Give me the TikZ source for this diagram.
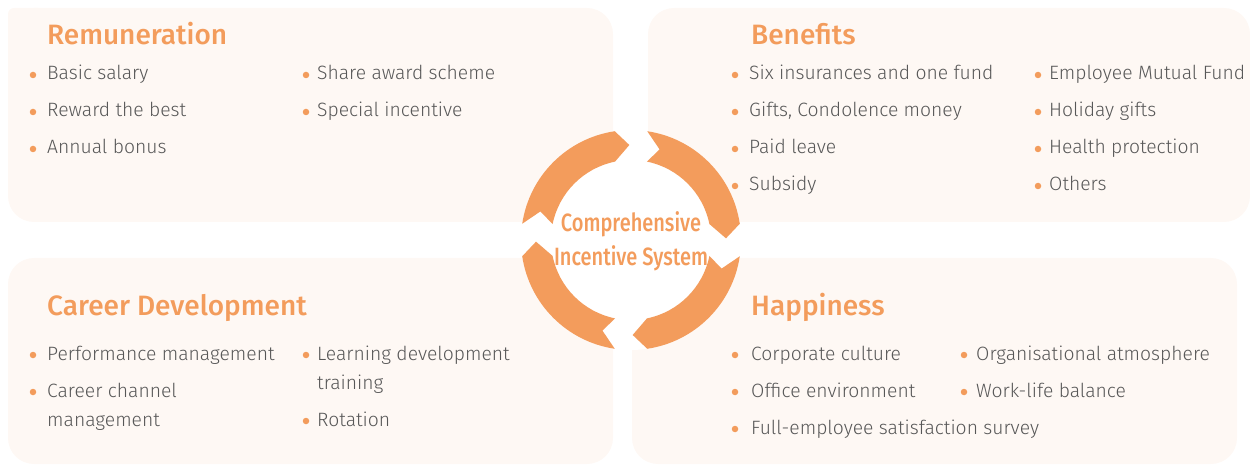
\documentclass[tikz,border=0pt]{standalone}
\usepackage{fontspec}
\setmainfont{Fira Sans Light}
\newfontfamily\titlefont{Fira Sans Medium}
\newfontfamily\hubfont{Fira Sans Medium}
\definecolor{accent}{HTML}{F39C5C}
\definecolor{panel}{HTML}{FEF8F4}
\definecolor{bodytext}{HTML}{575757}
\tikzset{
  panelbox/.style={fill=panel, rounded corners=26pt},
  heading/.style={anchor=base west, inner sep=0pt, text=accent, font=\titlefont\fontsize{28}{32}\selectfont},
  itemtext/.style={anchor=base west, inner sep=0pt, text=bodytext, font=\fontsize{19.3}{23}\selectfont},
  bullet/.style={circle, fill=accent, inner sep=0pt, minimum size=6.5pt},
  hubtext/.style={anchor=base, inner sep=0pt, text=accent, font=\hubfont\fontsize{25}{28}\selectfont},
  ringarrow/.style={fill=accent}
}
\begin{document}
\begin{tikzpicture}[x=1pt,y=1pt]
\useasboundingbox (0,0) rectangle (1250,464);

% panels
\fill[panelbox] (8,242) rectangle (613,456);
\fill[panel, rounded corners=6pt] (8,456) rectangle (44,420);
\fill[panelbox] (648,242) rectangle (1250,456);
\fill[panelbox] (8,0) rectangle (613,206);
\fill[panelbox] (632,0) rectangle (1237,206);

% ring
\fill[white] (631,224) circle (110);
\foreach \c in {90,0,-90,-180} {
  \fill[ringarrow, shift={(631,224)}]
    ({\c-8.5}:110) arc[start angle={\c-8.5}, end angle={\c-81.5}, radius=110]
    -- ({\c-89}:95)
    -- ({\c-78.5}:80) arc[start angle={\c-78.5}, end angle={\c-11.5}, radius=80]
    -- ({\c-17.5}:95) -- cycle;
}
\node[hubtext] (hubA) at (631,232) {\scalebox{0.8}[1]{Comprehensive}};
\node[hubtext] (hubB) at (631,199) {\scalebox{0.8}[1]{Incentive System}};

% Remuneration
\node[heading] (remT) at (47,419) {Remuneration};
\node[bullet] (r1d) at (33,389) {}; \node[itemtext] (r1) at (47,384) {Basic salary};
\node[bullet] (r2d) at (33,352) {}; \node[itemtext] (r2) at (47,347) {Reward the best};
\node[bullet] (r3d) at (33,315) {}; \node[itemtext] (r3) at (47,310) {Annual bonus};
\node[bullet] (r4d) at (306,389) {}; \node[itemtext] (r4) at (317,384) {Share award scheme};
\node[bullet] (r5d) at (306,352) {}; \node[itemtext] (r5) at (317,347) {Special incentive};

% Benefits
\node[heading] (benT) at (751,419) {Benefits};
\node[bullet] (b1d) at (735,389) {}; \node[itemtext] (b1) at (749,384) {Six insurances and one fund};
\node[bullet] (b2d) at (735,352) {}; \node[itemtext] (b2) at (749,347) {Gifts, Condolence money};
\node[bullet] (b3d) at (735,315) {}; \node[itemtext] (b3) at (749,310) {Paid leave};
\node[bullet] (b4d) at (735,278) {}; \node[itemtext] (b4) at (749,273) {Subsidy};
\node[bullet] (b5d) at (1038,389) {}; \node[itemtext] (b5) at (1049,384) {Employee Mutual Fund};
\node[bullet] (b6d) at (1038,352) {}; \node[itemtext] (b6) at (1049,347) {Holiday gifts};
\node[bullet] (b7d) at (1038,315) {}; \node[itemtext] (b7) at (1049,310) {Health protection};
\node[bullet] (b8d) at (1038,278) {}; \node[itemtext] (b8) at (1049,273) {Others};

% Career Development
\node[heading] (carT) at (47,149) {Career Development};
\node[bullet] (c1d) at (33,109) {}; \node[itemtext] (c1) at (47,104) {Performance management};
\node[bullet] (c2d) at (33,72) {}; \node[itemtext] (c2) at (47,67) {Career channel};
\node[itemtext] (c2b) at (47,38) {management};
\node[bullet] (c3d) at (306,109) {}; \node[itemtext] (c3) at (317,104) {Learning development};
\node[itemtext] (c3b) at (317,75) {training};
\node[bullet] (c4d) at (306,43) {}; \node[itemtext] (c4) at (317,38) {Rotation};

% Happiness
\node[heading] (hapT) at (751,149) {Happiness};
\node[bullet] (h1d) at (735,109) {}; \node[itemtext] (h1) at (751,104) {Corporate culture};
\node[bullet] (h2d) at (735,72) {}; \node[itemtext] (h2) at (751,67) {Office environment};
\node[bullet] (h3d) at (735,35) {}; \node[itemtext] (h3) at (751,30) {Full-employee satisfaction survey};
\node[bullet] (h4d) at (964,109) {}; \node[itemtext] (h4) at (976,104) {Organisational atmosphere};
\node[bullet] (h5d) at (964,72) {}; \node[itemtext] (h5) at (976,67) {Work-life balance};
\end{tikzpicture}
\end{document}
